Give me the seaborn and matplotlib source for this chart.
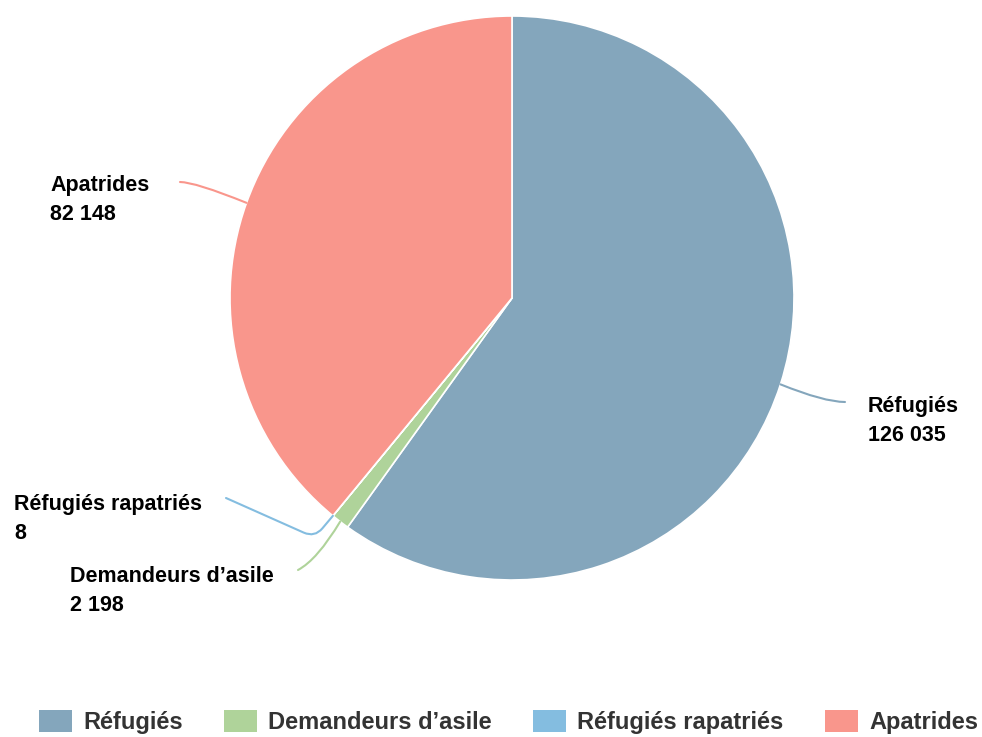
import numpy as np
import seaborn as sns
import matplotlib
matplotlib.use('Agg')
import matplotlib.pyplot as plt
from matplotlib.patches import Patch

# Données
categories = ['Réfugiés', 'Demandeurs d\u2019asile', 'Réfugiés rapatriés', 'Apatrides']
valeurs = [126035, 2198, 8, 82148]
etiquettes_valeurs = ['126 035', '2 198', '8', '82 148']
couleurs = ['#84a6bc', '#afd39a', '#84bde0', '#f9968c']

sns.set_theme(style='white')
plt.rcParams['font.family'] = ['Liberation Sans', 'DejaVu Sans']

W, H = 982, 737
fig = plt.figure(figsize=(W / 100, H / 100), dpi=100)
ax = fig.add_axes([0, 0, 1, 1])

cx, cy, r = 512, H - 298, 282
wedges, _ = ax.pie(valeurs, colors=couleurs, startangle=90, counterclock=False,
                   center=(cx, cy), radius=r, frame=True,
                   wedgeprops=dict(edgecolor='white', linewidth=1.2))
ax.set_xlim(0, W)
ax.set_ylim(0, H)
ax.set_aspect('equal')
ax.axis('off')

# position des étiquettes (pixels) et fin du connecteur
pos_texte = [(868, 421), (70, 591), (14, 519), (50, 200)]
fin_ligne = [(845, 402), (298, 570), (226, 498), (180, 182)]
connexions = ['angle3,angleA=0,angleB=-22',
              'angle3,angleA=28,angleB=59',
              'angle,angleA=-24,angleB=50,rad=12',
              'angle3,angleA=0,angleB=-22']

for w, lab, val, col, (tx, ty), (lx, ly), cs in zip(wedges, categories, etiquettes_valeurs,
                                                      couleurs, pos_texte, fin_ligne, connexions):
    ang = np.deg2rad((w.theta1 + w.theta2) / 2)
    px, py = cx + r * np.cos(ang), cy + r * np.sin(ang)
    ax.annotate('', xy=(px, py), xytext=(lx, H - ly),
                arrowprops=dict(arrowstyle='-', color=col, lw=1.5,
                                shrinkA=0, shrinkB=0, connectionstyle=cs))
    ax.text(tx, H - ty, f'{lab}\n{val}', ha='left', va='center', multialignment='left',
            fontsize=15.5, fontweight='bold', color='black', linespacing=1.45)

handles = [Patch(facecolor=c, edgecolor='none') for c in couleurs]
leg = fig.legend(handles, categories, loc='center', bbox_to_anchor=(0.518, 1 - 722 / H),
                 ncol=4, frameon=False, handlelength=1.4, handleheight=1.05,
                 handletextpad=0.47, columnspacing=1.75, borderpad=0,
                 prop=dict(family='Liberation Sans', weight='bold', size=17))
for t in leg.get_texts():
    t.set_color('#333333')

fig.savefig('out.png', dpi=100)
